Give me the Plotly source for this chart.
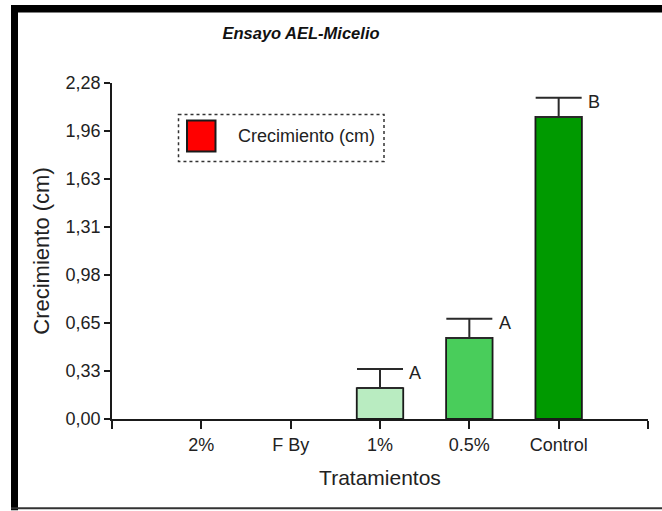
import plotly.graph_objects as go

# Treatment groups and measured mycelial growth (cm)
tratamientos = ["2%", "F By", "1%", "0.5%", "Control"]
crecimiento = [0.0, 0.0, 0.21, 0.55, 2.05]
error_sup = [0.0, 0.0, 0.13, 0.13, 0.13]
letras = ["", "", "A", "A", "B"]
colores = ["#ffffff", "#ffffff", "#b9ecc1", "#49cd5b", "#009a00"]

# Y axis tick labels (axis spans 0 to 2.28 in 7 equal steps)
y_max = 2.28
y_ticktext = ["0,00", "0,33", "0,65", "0,98", "1,31", "1,63", "1,96", "2,28"]
y_tickvals = [y_max * i / (len(y_ticktext) - 1) for i in range(len(y_ticktext))]

FONT = "Liberation Sans, Arial, sans-serif"
W, H = 662, 511
ML, MR, MT, MB = 112, 14, 83, 91.5

posiciones = list(range(1, len(tratamientos) + 1))


def px(x):
    return (x - ML) / (W - ML - MR)


def py(y):
    return (H - MB - y) / (H - MT - MB)


# Groups with no growth draw no bar and no error cap
y_barra = [v if v > 0 else None for v in crecimiento]
err = [e if v > 0 else None for v, e in zip(crecimiento, error_sup)]

fig = go.Figure()
fig.add_trace(go.Bar(
    x=posiciones,
    y=y_barra,
    width=0.52,
    marker=dict(color=colores, line=dict(color="#1a1a1a", width=1.8)),
    error_y=dict(type="data", array=err, symmetric=False,
                 arrayminus=[0] * len(err),
                 color="#2a2a2a", thickness=2, width=23),
    showlegend=False,
    hoverinfo="skip",
))

# Significance letters next to each error cap
for xp, v, e, t in zip(posiciones, crecimiento, error_sup, letras):
    if t:
        fig.add_annotation(x=xp + 0.26, y=v + e, text=t, showarrow=False,
                           xanchor="left", yanchor="middle", xshift=4, yshift=-4,
                           font=dict(family=FONT, size=18, color="#222"))

shapes = []
# Frame around the figure
shapes.append(dict(type="rect", xref="paper", yref="paper",
                   x0=px(11), x1=px(664), y0=py(5), y1=py(12.5),
                   fillcolor="black", line=dict(width=0)))
shapes.append(dict(type="rect", xref="paper", yref="paper",
                   x0=px(11), x1=px(18), y0=py(5), y1=py(511),
                   fillcolor="black", line=dict(width=0)))
shapes.append(dict(type="line", xref="paper", yref="paper",
                   x0=px(11), x1=px(664), y0=py(509), y1=py(509),
                   line=dict(color="#333", width=2)))
# Legend box with swatch
shapes.append(dict(type="rect", xref="paper", yref="paper",
                   x0=px(178.5), x1=px(384), y0=py(114.5), y1=py(161.5),
                   line=dict(color="#333", width=1.5, dash="dot"),
                   fillcolor="rgba(0,0,0,0)"))
shapes.append(dict(type="rect", xref="paper", yref="paper",
                   x0=px(187), x1=px(215.5), y0=py(120.5), y1=py(151.5),
                   line=dict(color="#1a1a1a", width=2), fillcolor="#ff0000"))
fig.add_annotation(xref="paper", yref="paper", x=px(236), y=py(136),
                   text="Crecimiento (cm)", showarrow=False,
                   xanchor="left", yanchor="middle",
                   font=dict(family=FONT, size=18, color="#222"))

fig.update_layout(
    width=W, height=H,
    margin=dict(l=ML, r=MR, t=MT, b=MB, pad=0),
    paper_bgcolor="white", plot_bgcolor="white",
    shapes=shapes,
    title=dict(text="<b><i>Ensayo AEL-Micelio</i></b>", x=301 / W, xref="container",
               xanchor="center", y=1 - 33 / H, yref="container", yanchor="middle",
               font=dict(family=FONT, size=16.5, color="#111")),
    xaxis=dict(range=[0, len(tratamientos) + 1],
               tickvals=[0] + posiciones + [len(tratamientos) + 1],
               ticktext=[""] + tratamientos + [""],
               showline=True, linecolor="#1a1a1a", linewidth=1.8,
               ticks="outside", ticklen=8, tickwidth=1.8, tickcolor="#1a1a1a",
               showgrid=False, zeroline=False,
               tickfont=dict(family=FONT, size=18, color="#222"),
               title=dict(text="Tratamientos", standoff=17,
                          font=dict(family=FONT, size=21, color="#222"))),
    yaxis=dict(range=[0, y_max], tickvals=y_tickvals, ticktext=y_ticktext,
               showline=True, linecolor="#1a1a1a", linewidth=1.8,
               ticks="outside", ticklen=6, tickwidth=1.8, tickcolor="#1a1a1a",
               showgrid=False, zeroline=False,
               tickfont=dict(family=FONT, size=18, color="#222"),
               title=dict(text="Crecimiento (cm)", standoff=10,
                          font=dict(family=FONT, size=22, color="#222"))),
)

fig.write_html("out.html")
